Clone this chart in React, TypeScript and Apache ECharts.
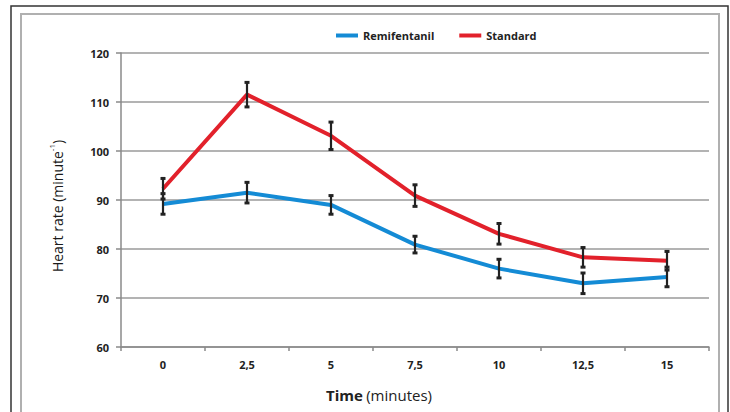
import React, { useEffect, useRef } from "react";
import * as echarts from "echarts";

const categories = ["0", "2,5", "5", "7,5", "10", "12,5", "15"];
const remifentanil = [89.2, 91.5, 89.0, 80.9, 76.0, 73.0, 74.3];
const standard = [92.3, 111.5, 103.1, 90.9, 83.1, 78.3, 77.6];
const remifentanilErr = [2.1, 2.1, 1.9, 1.7, 1.9, 2.1, 2.0];
const standardErr = [2.1, 2.5, 2.8, 2.2, 2.1, 2.0, 1.9];

const FONT = "Open Sans";
const BLUE = "#148BD5";
const RED = "#E2212B";

function errData(means: number[], errs: number[]) {
  return means.map((m, i) => [i, m - errs[i], m + errs[i]]);
}

function renderErr(params: any, api: any) {
  const i = api.value(0);
  const lo = api.coord([i, api.value(1)]);
  const hi = api.coord([i, api.value(2)]);
  const w = 2.5;
  const style = { stroke: "#222", lineWidth: 2.2 };
  return {
    type: "group",
    children: [
      { type: "line", shape: { x1: lo[0], y1: lo[1], x2: hi[0], y2: hi[1] }, style },
      { type: "line", shape: { x1: lo[0] - w, y1: lo[1], x2: lo[0] + w, y2: lo[1] }, style: { stroke: "#222", lineWidth: 3 } },
      { type: "line", shape: { x1: hi[0] - w, y1: hi[1], x2: hi[0] + w, y2: hi[1] }, style: { stroke: "#222", lineWidth: 3 } },
    ],
  };
}

export default function App() {
  const ref = useRef<HTMLDivElement>(null);
  useEffect(() => {
    if (!ref.current) return;
    const chart = echarts.init(ref.current, null, { renderer: "svg" });
    chart.setOption({
      animation: false,
      backgroundColor: "#fff",
      graphic: [
        { type: "rect", shape: { x: 11, y: 6, width: 717, height: 500 }, style: { fill: "none", stroke: "#333", lineWidth: 1.5 }, z: 0 },
        { type: "rect", shape: { x: 21, y: 14, width: 698, height: 500 }, style: { fill: "none", stroke: "#b0b0b0", lineWidth: 2 }, z: 0 },
      ],
      legend: {
        data: ["Remifentanil", "Standard"],
        left: 331,
        top: 25,
        itemWidth: 22,
        itemHeight: 4,
        itemGap: 25,
        icon: "rect",
        textStyle: { fontFamily: FONT, fontWeight: "bold", fontSize: 11, color: "#222" },
      },
      grid: { left: 121, right: 21, top: 53, bottom: 65 },
      xAxis: {
        type: "category",
        data: categories,
        boundaryGap: true,
        name: "{b|Time} {n|(minutes)}",
        nameLocation: "middle",
        nameGap: 40,
        nameTextStyle: {
          padding: [0, 72, 0, 0],
          rich: {
            b: { fontFamily: FONT, fontWeight: "bold", fontSize: 15, color: "#222" },
            n: { fontFamily: FONT, fontSize: 15, color: "#222" },
          },
        },
        axisLine: { lineStyle: { color: "#8a8a8a", width: 1.5 } },
        axisTick: { show: true, length: 4, lineStyle: { color: "#8a8a8a", width: 1.5 } },
        axisLabel: { fontFamily: FONT, fontWeight: "bold", fontSize: 11, color: "#222", margin: 12 },
      },
      yAxis: {
        type: "value",
        min: 60,
        max: 120,
        interval: 10,
        name: "{n|Heart rate (minute}{s|-1}{n|)}",
        nameLocation: "middle",
        nameRotate: 90,
        nameGap: 54,
        nameTextStyle: {
          padding: [0, 12, 0, 0],
          rich: {
            n: { fontFamily: FONT, fontSize: 14, color: "#1a1a1a", lineHeight: 20 },
            s: { fontFamily: FONT, fontSize: 8, color: "#1a1a1a", verticalAlign: "top", lineHeight: 20 },
          },
        },
        axisLine: { show: true, lineStyle: { color: "#8a8a8a", width: 1.5 } },
        axisTick: { show: true, length: 5, lineStyle: { color: "#8a8a8a", width: 1.5 } },
        axisLabel: { fontFamily: FONT, fontWeight: "bold", fontSize: 11, color: "#222", margin: 12 },
        splitLine: { lineStyle: { color: "#9a9a9a", width: 1.5 } },
      },
      series: [
        {
          name: "Remifentanil",
          type: "line",
          data: remifentanil,
          showSymbol: false,
          symbol: "none",
          lineStyle: { color: BLUE, width: 4 },
          itemStyle: { color: BLUE },
          z: 3,
        },
        {
          name: "Standard",
          type: "line",
          data: standard,
          showSymbol: false,
          symbol: "none",
          lineStyle: { color: RED, width: 4 },
          itemStyle: { color: RED },
          z: 4,
        },
        {
          name: "errR",
          type: "custom",
          renderItem: renderErr,
          data: errData(remifentanil, remifentanilErr),
          z: 5,
        },
        {
          name: "errS",
          type: "custom",
          renderItem: renderErr,
          data: errData(standard, standardErr),
          z: 5,
        },
      ],
    });
    return () => chart.dispose();
  }, []);
  return <div ref={ref} style={{ position: "fixed", left: 0, top: 0, width: 730, height: 412 }} />;
}
